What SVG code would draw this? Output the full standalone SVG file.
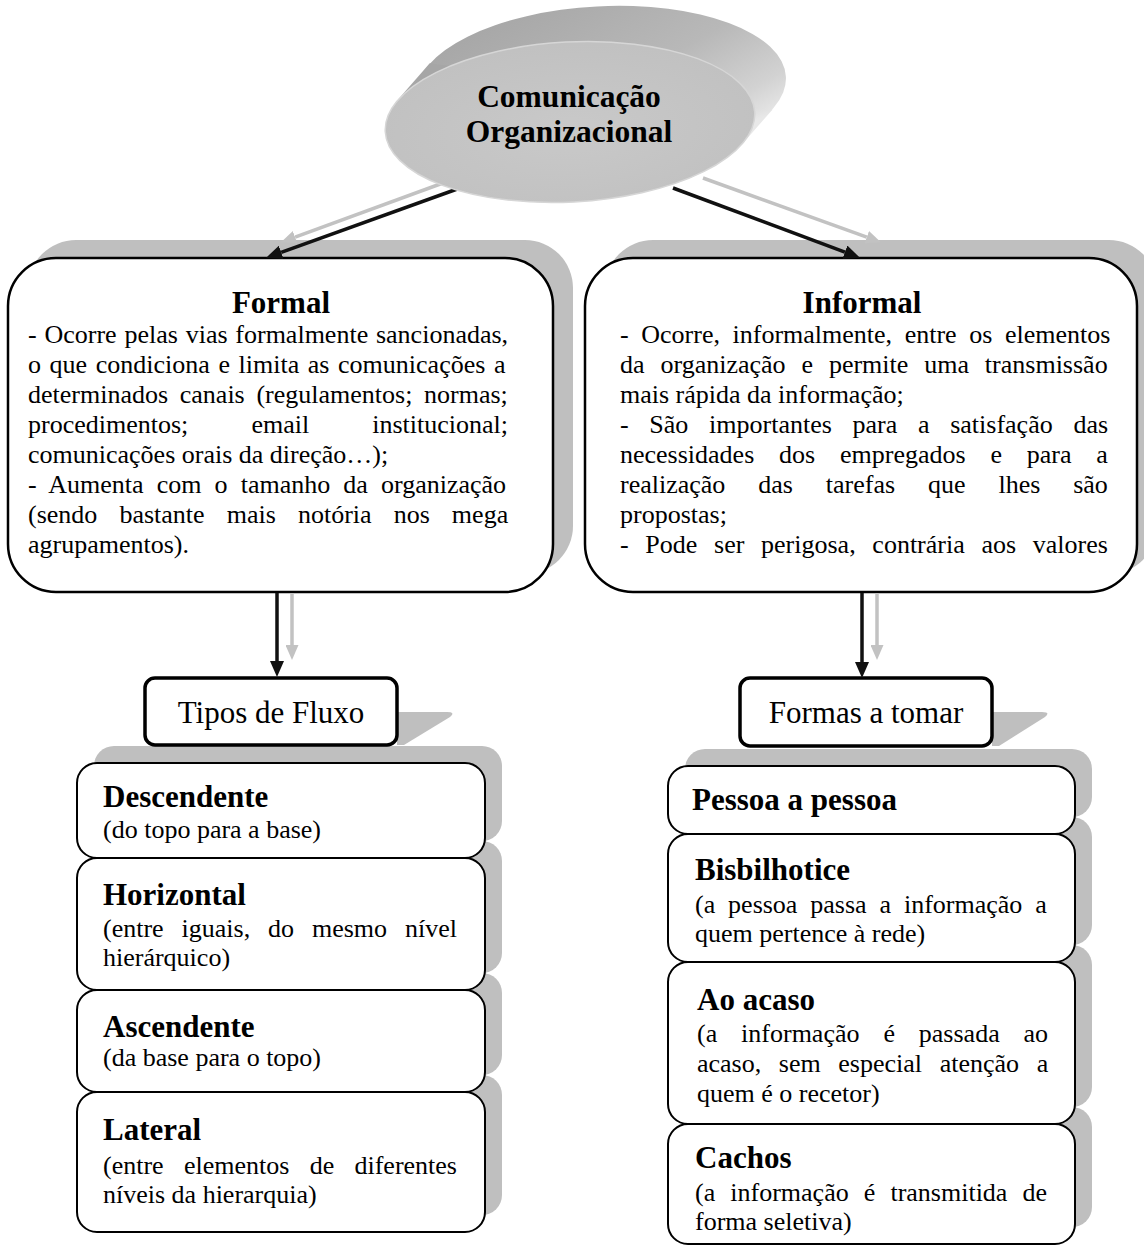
<svg xmlns="http://www.w3.org/2000/svg" width="1144" height="1248" viewBox="0 0 1144 1248">
  <style>
    .t { font-family: "Liberation Serif", "Times New Roman", serif; fill: #000; }
    .body { font-size: 26px; }
    .title { font-size: 31px; font-weight: bold; }
    .hdrtxt { font-size: 31px; }
    .shadow { fill: #bfbfbf; }
    .box { fill: #fff; stroke: #000; stroke-width: 2.5; }
    .sbox { fill: #fff; stroke: #000; stroke-width: 2; }
    .hdr { fill: #fff; stroke: #000; stroke-width: 3.5; }
    .lk { stroke: #111; stroke-width: 3.5; fill: none; }
    .lg { stroke: #c2c2c2; stroke-width: 3.5; fill: none; }
  </style>
  <defs>
    <marker id="headBlack" markerUnits="userSpaceOnUse" markerWidth="16" markerHeight="14" refX="0" refY="7" orient="auto">
      <path d="M0,0 L16,7 L0,14 Z" fill="#111"/>
    </marker>
    <marker id="headGray" markerUnits="userSpaceOnUse" markerWidth="15" markerHeight="13" refX="0" refY="6.5" orient="auto">
      <path d="M0,0 L15,6.5 L0,13 Z" fill="#c2c2c2"/>
    </marker>
    <linearGradient id="rimGrad" x1="0.2" y1="0" x2="1" y2="0.7">
      <stop offset="0" stop-color="#a6a6a6"/>
      <stop offset="0.55" stop-color="#b8b8b8"/>
      <stop offset="0.85" stop-color="#d2d2d2"/>
      <stop offset="1" stop-color="#e8e8e8"/>
    </linearGradient>
    <radialGradient id="faceGrad" cx="0.5" cy="0.55" r="0.6">
      <stop offset="0" stop-color="#c9c9c9"/>
      <stop offset="1" stop-color="#c0c0c0"/>
    </radialGradient>
  </defs>

  <!-- Formal -->
  <g id="formal">
    <rect class="shadow" x="28" y="240" width="545" height="334" rx="48"/>
    <rect class="box" x="8" y="258" width="545" height="334" rx="48"/>
    <text class="t title" x="281" y="313" text-anchor="middle">Formal</text>
    <g class="t body">
      <text x="28" y="343" style="word-spacing:1.3px">- Ocorre pelas vias formalmente sancionadas,</text>
      <text x="28" y="373" style="word-spacing:2.1px">o que condiciona e limita as comunicações a</text>
      <text x="28" y="403" style="word-spacing:5.2px">determinados canais (regulamentos; normas;</text>
      <text x="28" y="433" style="word-spacing:56.6px">procedimentos; email institucional;</text>
      <text x="28" y="463">comunicações orais da direção…);</text>
      <text x="28" y="493" style="word-spacing:6.6px">- Aumenta com o tamanho da organização</text>
      <text x="28" y="523" style="word-spacing:15.6px">(sendo bastante mais notória nos mega</text>
      <text x="28" y="553">agrupamentos).</text>
    </g>
  </g>

  <!-- Informal -->
  <g id="informal">
    <rect class="shadow" x="605" y="240" width="552" height="334" rx="48"/>
    <rect class="box" x="585" y="258" width="552" height="334" rx="48"/>
    <text class="t title" x="862" y="313" text-anchor="middle">Informal</text>
    <g class="t body">
      <text x="620" y="343" style="word-spacing:6.1px">- Ocorre, informalmente, entre os elementos</text>
      <text x="620" y="373" style="word-spacing:9.4px">da organização e permite uma transmissão</text>
      <text x="620" y="403">mais rápida da informação;</text>
      <text x="620" y="433" style="word-spacing:14.2px">- São importantes para a satisfação das</text>
      <text x="620" y="463" style="word-spacing:18.3px">necessidades dos empregados e para a</text>
      <text x="620" y="493" style="word-spacing:26.4px">realização das tarefas que lhes são</text>
      <text x="620" y="523">propostas;</text>
      <text x="620" y="553" style="word-spacing:10.2px">- Pode ser perigosa, contrária aos valores</text>
    </g>
  </g>

  <!-- Flow types stack (drawn bottom-up so each shadow sits behind the box above) -->
  <g id="lateral">
    <rect class="shadow" x="94" y="1075" width="408" height="140" rx="20"/>
    <rect class="sbox" x="77" y="1092" width="408" height="140" rx="20"/>
    <text class="t title" x="103" y="1140">Lateral</text>
    <text class="t body" x="103" y="1174" style="word-spacing:13.8px">(entre elementos de diferentes</text>
    <text class="t body" x="103" y="1203">níveis da hierarquia)</text>
  </g>
  <g id="ascendente">
    <rect class="shadow" x="94" y="973" width="408" height="102" rx="20"/>
    <rect class="sbox" x="77" y="990" width="408" height="102" rx="20"/>
    <text class="t title" x="103" y="1037">Ascendente</text>
    <text class="t body" x="103" y="1066">(da base para o topo)</text>
  </g>
  <g id="horizontal">
    <rect class="shadow" x="94" y="841" width="408" height="132" rx="20"/>
    <rect class="sbox" x="77" y="858" width="408" height="132" rx="20"/>
    <text class="t title" x="103" y="905">Horizontal</text>
    <text class="t body" x="103" y="937" style="word-spacing:11.4px">(entre iguais, do mesmo nível</text>
    <text class="t body" x="103" y="966">hierárquico)</text>
  </g>
  <g id="descendente">
    <rect class="shadow" x="94" y="746" width="408" height="95" rx="20"/>
    <rect class="sbox" x="77" y="763" width="408" height="95" rx="20"/>
    <text class="t title" x="103" y="807">Descendente</text>
    <text class="t body" x="103" y="838">(do topo para a base)</text>
  </g>

  <!-- Forms stack -->
  <g id="cachos">
    <rect class="shadow" x="685" y="1107" width="407" height="120" rx="20"/>
    <rect class="sbox" x="668" y="1124" width="407" height="120" rx="20"/>
    <text class="t title" x="695" y="1168">Cachos</text>
    <text class="t body" x="695" y="1201" style="word-spacing:8.6px">(a informação é transmitida de</text>
    <text class="t body" x="695" y="1230">forma seletiva)</text>
  </g>
  <g id="ao-acaso">
    <rect class="shadow" x="685" y="945" width="407" height="162" rx="20"/>
    <rect class="sbox" x="668" y="962" width="407" height="162" rx="20"/>
    <text class="t title" x="697" y="1010">Ao acaso</text>
    <text class="t body" x="697" y="1042" style="word-spacing:17.4px">(a informação é passada ao</text>
    <text class="t body" x="697" y="1072" style="word-spacing:11.1px">acaso, sem especial atenção a</text>
    <text class="t body" x="697" y="1102">quem é o recetor)</text>
  </g>
  <g id="bisbilhotice">
    <rect class="shadow" x="685" y="817" width="407" height="128" rx="20"/>
    <rect class="sbox" x="668" y="834" width="407" height="128" rx="20"/>
    <text class="t title" x="695" y="880">Bisbilhotice</text>
    <text class="t body" x="695" y="913" style="word-spacing:6.4px">(a pessoa passa a informação a</text>
    <text class="t body" x="695" y="942">quem pertence à rede)</text>
  </g>
  <g id="pessoa-a-pessoa">
    <rect class="shadow" x="685" y="749" width="407" height="68" rx="20"/>
    <rect class="sbox" x="668" y="766" width="407" height="68" rx="20"/>
    <text class="t title" x="692" y="810">Pessoa a pessoa</text>
  </g>

  <!-- Section headers -->
  <g id="tipos-de-fluxo">
    <path class="shadow" d="M397,712 L447,712 Q456,712 450,717 L404,745 L397,745 Z"/>
    <rect class="hdr" x="145" y="678" width="252" height="67" rx="10"/>
    <text class="t hdrtxt" x="271" y="723" text-anchor="middle">Tipos de Fluxo</text>
  </g>
  <g id="formas-a-tomar">
    <path class="shadow" d="M992,712 L1042,712 Q1051,712 1045,717 L999,746 L992,746 Z"/>
    <rect class="hdr" x="740" y="678" width="252" height="68" rx="10"/>
    <text class="t hdrtxt" x="866" y="723" text-anchor="middle">Formas a tomar</text>
  </g>

  <!-- Connectors -->
  <g id="connectors">
    <line class="lg" x1="443" y1="183" x2="295.1" y2="237.2" marker-end="url(#headGray)"/>
    <line class="lk" x1="460" y1="188" x2="281.2" y2="252.3" marker-end="url(#headBlack)"/>
    <line class="lg" x1="703" y1="178" x2="866.8" y2="237.2" marker-end="url(#headGray)"/>
    <line class="lk" x1="673" y1="188" x2="844.9" y2="252.1" marker-end="url(#headBlack)"/>
    <line class="lg" x1="292" y1="593" x2="292" y2="645" marker-end="url(#headGray)"/>
    <line class="lk" x1="277" y1="593" x2="277" y2="661" marker-end="url(#headBlack)"/>
    <line class="lg" x1="877" y1="593" x2="877" y2="645" marker-end="url(#headGray)"/>
    <line class="lk" x1="862" y1="593" x2="862" y2="662" marker-end="url(#headBlack)"/>
  </g>

  <!-- Root: raised disc -->
  <g id="comunicacao-organizacional">
    <g transform="rotate(-3 570 122)">
      <ellipse cx="603" cy="88" rx="185" ry="80" fill="url(#rimGrad)"/>
      <polygon points="400,90 433,56 773,120 740,154" fill="url(#rimGrad)"/>
      <ellipse cx="570" cy="122" rx="185" ry="80" fill="url(#faceGrad)" stroke="#d6d6d6" stroke-width="1.5"/>
    </g>
    <text class="t title" x="569" y="107" text-anchor="middle" style="font-size:31.5px">Comunicação</text>
    <text class="t title" x="569" y="142" text-anchor="middle" style="font-size:31.5px">Organizacional</text>
  </g>
</svg>
